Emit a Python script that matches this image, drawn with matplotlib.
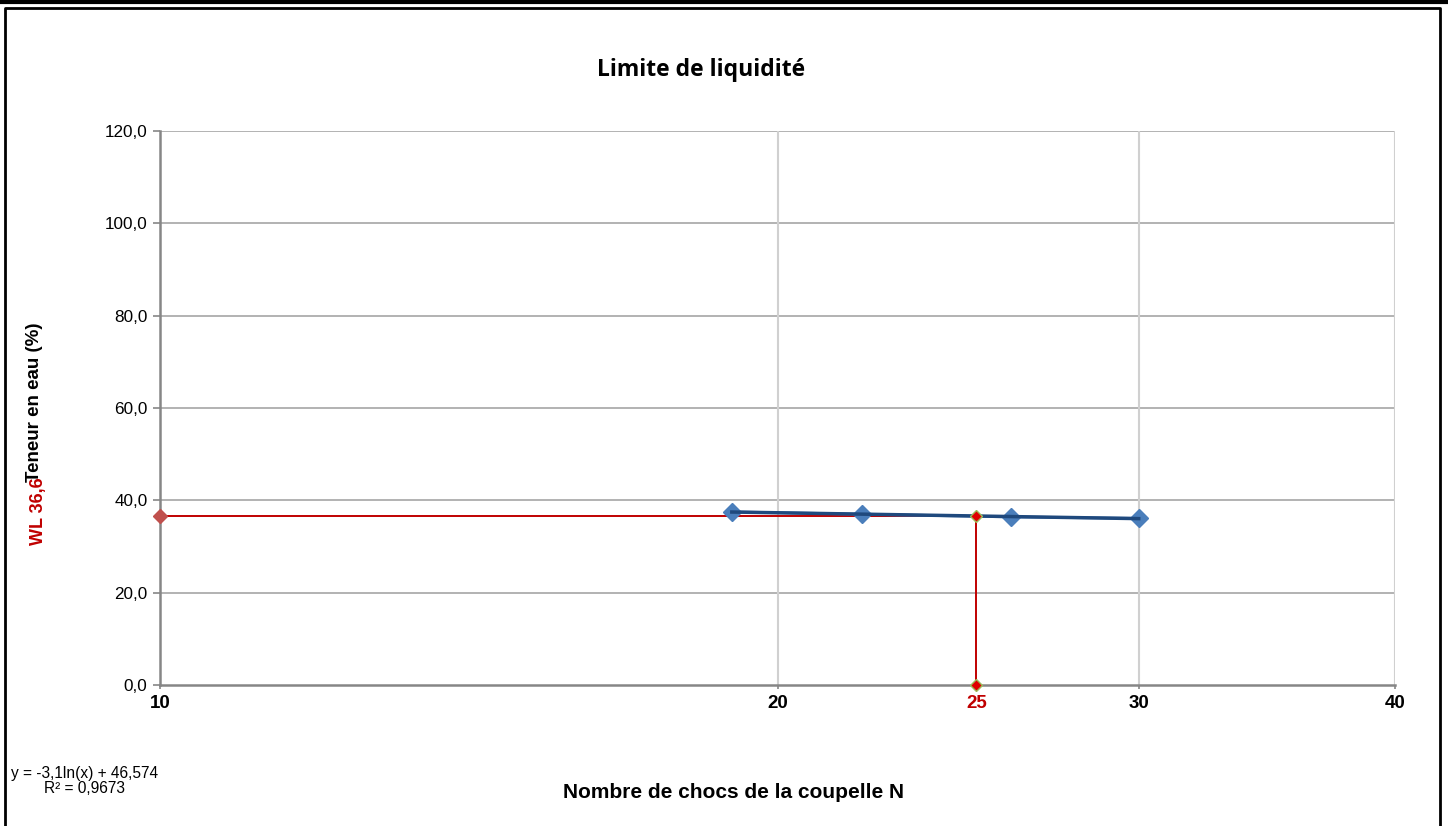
import numpy as np
import matplotlib
matplotlib.use("Agg")
import matplotlib.pyplot as plt
from matplotlib.lines import Line2D

# ---- data ----
coups = [19, 22, 26, 30]
teneur = [37.5, 37.0, 36.4, 36.1]
wl_value = 36.6
n_ref = 25
x_min, x_max = 10, 40
y_ticks = [0, 20, 40, 60, 80, 100, 120]
x_ticks = [10, 20, 30, 40]
title = "Limite de liquidité"
xlabel = "Nombre de chocs de la coupelle N"
ylabel = "Teneur en eau (%)"
eq_text = "y = -3,1ln(x) + 46,574\nR² = 0,9673"

W, H = 1448, 826
fig = plt.figure(figsize=(W / 100, H / 100), dpi=100)
fig.patch.set_facecolor("white")

ax = fig.add_axes([160 / W, 1 - 685 / H, (1395 - 160) / W, (685 - 131) / H])
ax.set_xscale("log")
ax.set_xlim(x_min, x_max)
ax.set_ylim(0, 120)

# grid
for yv in y_ticks[1:]:
    ax.axhline(yv, color="#a6a6a6", lw=1.2, zorder=1)
for xv in x_ticks[1:]:
    ax.axvline(xv, color="#d0d0d0", lw=1.5, zorder=1)

for s in ["top", "right"]:
    ax.spines[s].set_visible(False)
for s in ["left", "bottom"]:
    ax.spines[s].set_color("#868686")
    ax.spines[s].set_linewidth(1.8)

ax.set_yticks(y_ticks)
ax.set_yticklabels([f"{v:.1f}".replace(".", ",") for v in y_ticks],
                   fontsize=12.3, family="Liberation Sans")
ax.tick_params(axis="y", direction="out", length=5, width=1.2, color="#868686", pad=4)
ax.set_xticks(x_ticks)
ax.set_xticklabels([str(v) for v in x_ticks], fontsize=13.5, fontweight="bold",
                   family="Liberation Sans")
ax.xaxis.set_minor_locator(matplotlib.ticker.NullLocator())
ax.tick_params(axis="x", direction="out", length=3, width=1.2, color="#868686", pad=4)

# red reference lines
red = "#C00000"
ax.plot([x_min, n_ref], [wl_value, wl_value], color=red, lw=1.4, zorder=3, clip_on=False)
ax.plot([n_ref, n_ref], [0, wl_value], color=red, lw=1.4, zorder=3, clip_on=False)
ax.plot([x_min], [wl_value], marker="D", ms=7, color="#C0504D", zorder=6, clip_on=False)
ax.plot([n_ref, n_ref], [0, wl_value], ls="none", marker="D", ms=6,
        mfc="#E00000", mec="#9BBB59", mew=1, zorder=7, clip_on=False)

# data series
ax.plot(coups, teneur, color="#4F81BD", lw=2, zorder=4)
ax.plot(coups, teneur, ls="none", marker="D", ms=9, color="#4A7EBB", zorder=5)
# logarithmic trend line fitted on the data
a, b = np.polyfit(np.log(coups), teneur, 1)
xt = np.linspace(min(coups), max(coups), 50)
ax.plot(xt, a * np.log(xt) + b, color="#1F497D", lw=2.5, zorder=5.5)

# labels
fig.text(701 / W, 1 - 70 / H, title, ha="center", va="center", fontsize=16.5,
         fontweight="bold", family="Open Sans")
fig.text(734 / W, 1 - 792 / H, xlabel, ha="center", va="center", fontsize=15,
         fontweight="bold", family="Liberation Sans")
fig.text(35 / W, 1 - 402 / H, ylabel, ha="center", va="center", rotation=90,
         fontsize=13.5, fontweight="bold", family="Liberation Sans")
fig.text(39 / W, 1 - 511 / H, "WL " + f"{wl_value:.1f}".replace(".", ","), ha="center",
         va="center", rotation=90, fontsize=13, fontweight="bold", color=red,
         family="Liberation Sans")
t25 = ax.text(n_ref, -0.018, str(n_ref), transform=ax.get_xaxis_transform(), ha="center",
              va="top", fontsize=13.5, fontweight="bold", color=red, family="Liberation Sans")
fig.text(85 / W, 1 - 781 / H, eq_text, ha="center", va="center", fontsize=11.2,
         family="Liberation Sans", linespacing=1.0)

# frame
fig.add_artist(Line2D([0, 1], [1 - 1.5 / H, 1 - 1.5 / H], color="black", lw=3,
                      transform=fig.transFigure))
fig.add_artist(Line2D([5 / W, 5 / W, 1440 / W, 1440 / W],
                      [0, 1 - 8 / H, 1 - 8 / H, 0], color="black", lw=2,
                      transform=fig.transFigure))

fig.savefig("out.png", dpi=100, facecolor="white")
